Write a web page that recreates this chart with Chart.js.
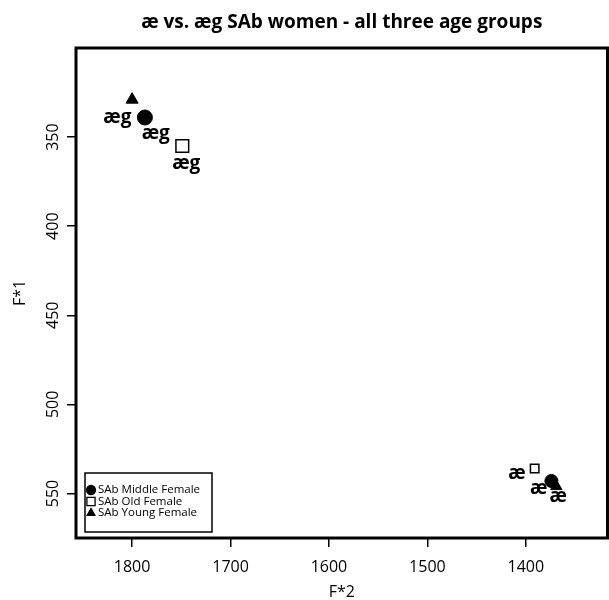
<!DOCTYPE html>
<html>
<head>
<meta charset="utf-8">
<script src="https://cdn.jsdelivr.net/npm/chart.js@4"></script>
<style>
html, body { margin: 0; padding: 0; overflow: hidden; background: #fff; }
#wrap { width: 618px; height: 600px; }
</style>
</head>
<body>
<div id="wrap"><canvas id="chart" width="618" height="600"></canvas></div>
<script>
// values (F*2 = x, F*1 = y), first point = æg, second = æ
var groups = ['SAb Middle Female', 'SAb Old Female', 'SAb Young Female'];
var vowels = ['æg', 'æ'];
var f2Middle = [1787, 1374];
var f1Middle = [339, 543];
var f2Old = [1749, 1391];
var f1Old = [355, 536];
var f2Young = [1800, 1369];
var f1Young = [329, 546];
// where the vowel labels sit
var labF2Middle = [1776, 1387];
var labF1Middle = [348, 547];
var labF2Old = [1745, 1409];
var labF1Old = [365, 539];
var labF2Young = [1815, 1367];
var labF1Young = [339, 552];
var xTicks = [1800, 1700, 1600, 1500, 1400];
var yTicks = [350, 400, 450, 500, 550];

var FONT = '"Open Sans", "DejaVu Sans", sans-serif';

function pts(xs, ys) {
  return xs.map(function (x, i) { return { x: x, y: ys[i] }; });
}

var labelSets = [
  pts(labF2Middle, labF1Middle),
  pts(labF2Old, labF1Old),
  pts(labF2Young, labF1Young)
];

var extras = {
  id: 'extras',
  afterDraw: function (chart) {
    var ctx = chart.ctx, a = chart.chartArea;
    var xs = chart.scales.x, ys = chart.scales.y;
    ctx.save();
    // frame
    ctx.strokeStyle = '#000';
    ctx.lineWidth = 3;
    ctx.strokeRect(a.left, a.top, a.right - a.left, a.bottom - a.top);
    // title
    ctx.fillStyle = '#000';
    ctx.font = 'bold 19px ' + FONT;
    ctx.textAlign = 'center';
    ctx.textBaseline = 'middle';
    ctx.fillText('æ vs. æg SAb women - all three age groups', (a.left + a.right) / 2, 23);
    // y tick labels, rotated
    ctx.font = '16px ' + FONT;
    yTicks.forEach(function (v) {
      ctx.save();
      ctx.translate(53, ys.getPixelForValue(v));
      ctx.rotate(-Math.PI / 2);
      ctx.fillText(String(v), 0, 0);
      ctx.restore();
    });
    // vowel labels
    ctx.font = 'bold 19px ' + FONT;
    labelSets.forEach(function (set) {
      set.forEach(function (p, i) {
        ctx.fillText(vowels[i], xs.getPixelForValue(p.x), ys.getPixelForValue(p.y));
      });
    });
    // legend box
    var lx = 85, ly = 473, lw = 127, lh = 59;
    ctx.fillStyle = '#fff';
    ctx.fillRect(lx, ly, lw, lh);
    ctx.strokeStyle = '#000';
    ctx.lineWidth = 1.5;
    ctx.strokeRect(lx, ly, lw, lh);
    ctx.font = '11.5px ' + FONT;
    ctx.textAlign = 'left';
    var styles = ['circle', 'rect', 'triangle'];
    var fills = ['#000', '#fff', '#000'];
    var radii = [4.5, 5.8, 4.5];
    groups.forEach(function (g, i) {
      var yy = ly + 17 + i * 11.5;
      ctx.fillStyle = fills[i];
      ctx.strokeStyle = '#000';
      ctx.lineWidth = 1.3;
      Chart.helpers.drawPoint(ctx, {
        pointStyle: styles[i], radius: radii[i], rotation: 0, borderWidth: 1.3
      }, lx + 6, yy);
      ctx.fillStyle = '#000';
      ctx.fillText(g, lx + 13, yy);
    });
    ctx.restore();
  }
};

new Chart(document.getElementById('chart'), {
  type: 'scatter',
  data: {
    datasets: [
      {
        label: groups[0], data: pts(f2Middle, f1Middle),
        pointStyle: 'circle', pointRadius: [7.5, 6.5],
        backgroundColor: '#000', borderColor: '#000', borderWidth: 1
      },
      {
        label: groups[1], data: pts(f2Old, f1Old),
        pointStyle: 'rect', pointRadius: [9, 6],
        backgroundColor: '#fff', borderColor: '#000', borderWidth: 1.5
      },
      {
        label: groups[2], data: pts(f2Young, f1Young),
        pointStyle: 'triangle', pointRadius: [7, 6.5],
        backgroundColor: '#000', borderColor: '#000', borderWidth: 1
      }
    ]
  },
  options: {
    responsive: false,
    animation: false,
    layout: { padding: { top: 48, right: 4, left: 0, bottom: 0 } },
    plugins: { legend: { display: false }, tooltip: { enabled: false } },
    scales: {
      x: {
        type: 'linear', reverse: true, min: 1317, max: 1857,
        afterBuildTicks: function (s) { s.ticks = xTicks.map(function (v) { return { value: v }; }); },
        afterFit: function (s) { s.height = 62; },
        border: { display: false },
        grid: { drawOnChartArea: false, drawTicks: true, tickLength: 9, color: '#000', lineWidth: 1.5 },
        ticks: {
          color: '#000', font: { family: FONT, size: 16 }, padding: 11, maxRotation: 0,
          callback: function (v) { return String(v); }
        },
        title: { display: true, text: 'F*2', color: '#000', font: { family: FONT, size: 16, lineHeight: 1 }, padding: { top: 0, bottom: 0 } }
      },
      y: {
        type: 'linear', reverse: true, min: 300, max: 575,
        afterBuildTicks: function (s) { s.ticks = yTicks.map(function (v) { return { value: v }; }); },
        afterFit: function (s) { s.width = 76; },
        border: { display: false },
        grid: { drawOnChartArea: false, drawTicks: true, tickLength: 9, color: '#000', lineWidth: 1.5 },
        ticks: { display: false },
        title: { display: true, text: 'F*1', color: '#000', font: { family: FONT, size: 16, lineHeight: 1 }, padding: { top: 12, bottom: 0 } }
      }
    }
  },
  plugins: [extras]
});
</script>
</body>
</html>
